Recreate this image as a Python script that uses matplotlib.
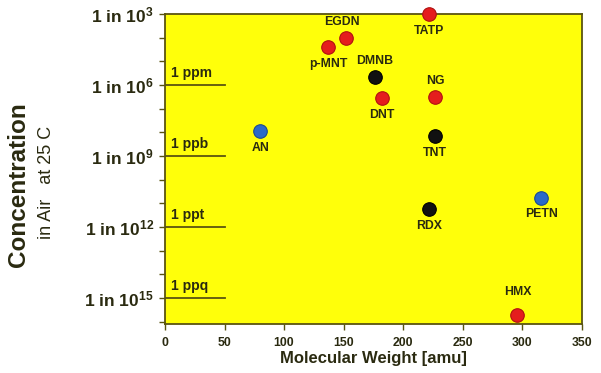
import matplotlib.pyplot as plt

# explosives: molecular weight vs vapour concentration exponent (1 in 10^n)
names = ['TATP', 'EGDN', 'p-MNT', 'DMNB', 'DNT', 'NG', 'TNT', 'AN', 'RDX', 'PETN', 'HMX']
mw = [222, 152, 137, 176, 182, 227, 227, 80, 222, 316, 296]
expo = [3.0, 4.0, 4.4, 5.65, 6.55, 6.5, 8.15, 7.95, 11.25, 10.75, 15.7]
colors = ['red', 'red', 'red', 'black', 'red', 'red', 'black', 'blue', 'black', 'blue', 'red']
label_pos = ['below', 'above', 'below', 'above', 'below', 'above', 'below', 'below', 'below', 'below', 'above']

ref_expo = [6, 9, 12, 15]
ref_names = ['1 ppm', '1 ppb', '1 ppt', '1 ppq']

col_map = {'red': '#e51d1d', 'black': '#111111', 'blue': '#2a6ac8'}
edge_map = {'red': '#b01010', 'black': '#000000', 'blue': '#1a4a90'}
txt_col = '#2a2a10'
frame_col = '#5a5410'

plt.rcParams['font.family'] = ['Liberation Sans', 'DejaVu Sans']
plt.rcParams['mathtext.fontset'] = 'custom'
plt.rcParams['mathtext.rm'] = 'Liberation Sans'
plt.rcParams['mathtext.bf'] = 'Liberation Sans:bold'

fig = plt.figure(figsize=(6.01, 3.73), dpi=100)
ax = fig.add_axes([0.2745, 0.131, 0.6935, 0.831])
ax.set_facecolor('#ffff0a')

for i in range(len(names)):
    c = colors[i]
    ax.scatter(mw[i], expo[i], s=95, color=col_map[c], edgecolor=edge_map[c],
               linewidth=0.8, zorder=5, clip_on=False)
    if label_pos[i] == 'above':
        dy = -0.7 if names[i] == 'HMX' else -0.42
        va = 'bottom'
    else:
        dy = 0.45
        va = 'top'
    dx = -3 if names[i] == 'EGDN' else 0
    ax.text(mw[i] + dx, expo[i] + dy, names[i], ha='center', va=va,
            fontsize=8.8, fontweight='bold', color=txt_col, zorder=6)

for e, n in zip(ref_expo, ref_names):
    ax.plot([0, 50], [e, e], color=frame_col, lw=1.3, zorder=3)
    ax.text(5, e - 0.2, n, ha='left', va='bottom', fontsize=10,
            fontweight='bold', color=txt_col)

ax.set_xlim(0, 350)
ax.set_ylim(16.1, 3.0)
ax.set_xticks(range(0, 351, 50))
ax.set_yticks(range(3, 17))
ax.set_yticklabels(['1 in $\\mathbf{10^{%d}}$' % k if k in (3, 6, 9, 12, 15) else ''
                    for k in range(3, 17)])
ax.tick_params(axis='y', labelsize=12.5, length=4, width=1, color=frame_col,
               labelcolor=txt_col, pad=4)
ax.tick_params(axis='x', labelsize=8.8, length=4, width=1, color=frame_col,
               labelcolor=txt_col, pad=5)
for lab in ax.get_yticklabels() + ax.get_xticklabels():
    lab.set_fontweight('bold')
for sp in ax.spines.values():
    sp.set_color(frame_col)
    sp.set_linewidth(1.3)

ax.set_xlabel('Molecular Weight [amu]', fontsize=12, fontweight='bold',
              color=txt_col, labelpad=2)
fig.text(0.03, 0.505, 'Concentration', rotation=90, ha='center', va='center',
         fontsize=17.5, fontweight='bold', color=txt_col)
fig.text(0.078, 0.51, 'in Air   at 25 C', rotation=90, ha='center', va='center',
         fontsize=13, color=txt_col)

fig.savefig('out.png', dpi=100)
